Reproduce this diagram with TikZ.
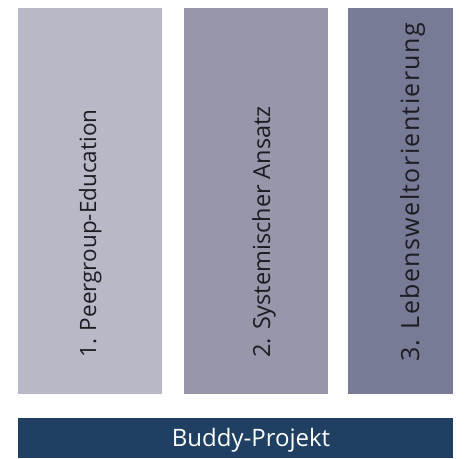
\documentclass[tikz,border=0pt]{standalone}
\usepackage{fontspec}
\setsansfont{Open Sans}
\usepackage{tikz}
\usetikzlibrary{positioning}
\definecolor{pillarA}{HTML}{B9B8C6}
\definecolor{pillarB}{HTML}{9697AA}
\definecolor{pillarC}{HTML}{777B95}
\definecolor{basebar}{HTML}{1F4062}
\definecolor{pillartext}{HTML}{1C1C22}
\tikzset{
	buddy pillars/.style={
		x=1pt,y=-1pt,
		font=\sffamily\fontsize{23.5}{28}\selectfont
	},
	pillar/.style={
		rectangle,
		anchor=north west,
		inner sep=0pt,
		minimum height=386pt
	},
	pillar label/.style={
		rotate=90,
		anchor=base west,
		inner sep=0pt,
		text=pillartext
	},
	base bar/.style={
		rectangle,
		anchor=north west,
		inner sep=0pt,
		fill=basebar,
		minimum width=435pt,
		minimum height=40pt
	}
}

\begin{document}
\begin{tikzpicture}[buddy pillars]
	\useasboundingbox (0,0) rectangle (468,458);
	% the three pillars
	\node[pillar,fill=pillarA,minimum width=144pt] (peergroup) at (18,8) {};
	\node[pillar,fill=pillarB,minimum width=144pt] (systemisch) at (184,8) {};
	\node[pillar,fill=pillarC,minimum width=105pt] (lebenswelt) at (348,8) {};
	% labels, read bottom to top
	\node[pillar label,font=\sffamily\fontsize{22.5}{27}\selectfont] (peergroup label) at (96,358) {1. Peergroup-Education};
	\node[pillar label] (systemisch label) at (270,358) {2. Systemischer Ansatz};
	\node[pillar label,font=\sffamily\fontsize{25}{30}\selectfont\addfontfeatures{LetterSpace=5.5}] (lebenswelt label) at (419,362) {3. Lebensweltorientierung};
	% the project underneath
	\node[base bar] (buddy) at (18,418) {};
	\node[anchor=base,text=white,inner sep=0pt,font=\sffamily\fontsize{24}{28}\selectfont] (buddy label) at (251,446) {Buddy-Projekt};
\end{tikzpicture}
\end{document}
